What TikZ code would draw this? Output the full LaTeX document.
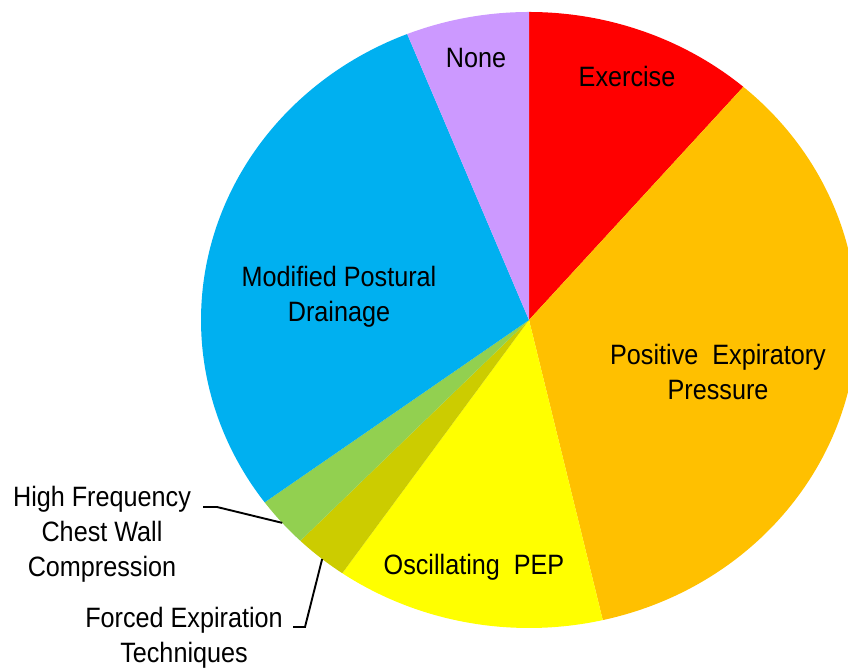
\documentclass[tikz,border=0pt]{standalone}
\usepackage{fontspec}
\setmainfont{Liberation Sans}[FakeStretch=0.9]
\usepackage{xcolor}
\usepackage{tikz}
\usetikzlibrary{calc}

\definecolor{exred}{HTML}{FF0000}
\definecolor{peporange}{HTML}{FFC000}
\definecolor{oscyellow}{HTML}{FFFF00}
\definecolor{feolive}{HTML}{CCCC00}
\definecolor{hfgreen}{HTML}{92D050}
\definecolor{mpdblue}{HTML}{00B0F0}
\definecolor{nonelilac}{HTML}{CC99FF}

\tikzset{
    slicelabel/.style={font=\fontsize{28}{35}\selectfont, align=center, anchor=base, inner sep=0pt},
    leader/.style={draw=black, line width=1.9pt}
}

\begin{document}
\begin{tikzpicture}[x=1pt, y=1pt]
        \useasboundingbox (0,0) rectangle (848,668);
        \coordinate (c) at (529,348);
        
        % Pie slices (slightly wider than tall)
        \foreach \a/\b/\col in {49.2/90/exred, -77.0/49.2/peporange, -124.7/-77.0/oscyellow,
                                -134.2/-124.7/feolive, -143.7/-134.2/hfgreen,
                                111.8/216.3/mpdblue, 90/111.8/nonelilac}
            \fill[\col] (c) -- ++(\a:328 and 308) arc[start angle=\a, end angle=\b, x radius=328, y radius=308] -- cycle;
        
        % Labels inside
        \node[slicelabel] (none) at (476,600) {None};
        \node[slicelabel] (exercise) at (627,581) {Exercise};
        \node[slicelabel] (mpd) at (339,346) {Modified Postural\\Drainage};
        \node[slicelabel] (pep) at (718,268) {Positive\ \ Expiratory\\Pressure};
        \node[slicelabel] (osc) at (474,93) {Oscillating\ \ PEP};
        
        % Labels outside
        \node[slicelabel] (hfcwc) at (102,91) {High Frequency\\Chest Wall\\Compression};
        \node[slicelabel] (fet) at (184,5) {Forced Expiration\\Techniques};
        
        % Leader lines
        \coordinate (hfstart) at (203,161);
        \coordinate (hfrim) at ($(c)+(-138.8:328 and 308)$);
        \coordinate (festart) at (293,41);
        \coordinate (ferim) at ($(c)+(-129.1:328 and 308)$);
        \draw[leader] (hfstart) -- ++(14,0) -- (hfrim);
        \draw[leader] (festart) -- ++(12,0) -- (ferim);
    \end{tikzpicture}
\end{document}
